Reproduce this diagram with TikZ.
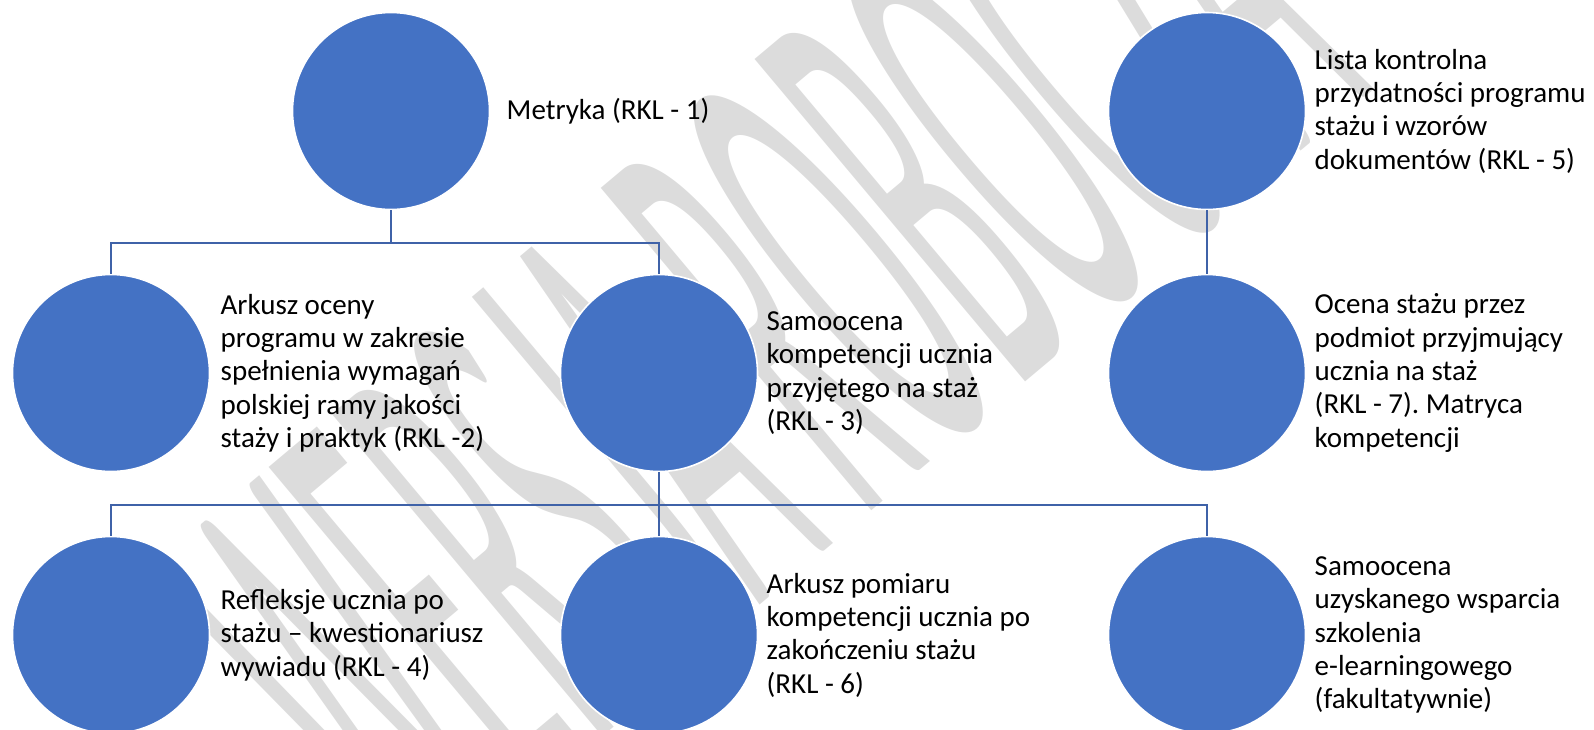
\documentclass[tikz,border=0pt]{standalone}
\usepackage{fontspec}
\setmainfont{Carlito}
\usetikzlibrary{positioning}
\definecolor{dotblue}{RGB}{68,114,196}
\definecolor{linkblue}{RGB}{63,98,168}
\definecolor{wmgray}{RGB}{220,220,220}
\frenchspacing

\begin{document}
\begin{tikzpicture}[x=0.5pt,y=-0.5pt,
    dot/.style={circle,fill=dotblue,draw=white,line width=0.8pt,minimum size=98.5pt,inner sep=0pt},
    lbl/.style={right=#1,inner sep=0pt,align=left,anchor=west,
      font=\fontsize{14.5pt}{16.65pt}\selectfont},
    link/.style={draw=linkblue,line width=1pt},
    wmark/.style={text=wmgray,inner sep=0pt,rotate=40,xscale=1.05,yscale=4.1,
      transform shape,font=\fontsize{80pt}{80pt}\selectfont}]
  \useasboundingbox (0,0) rectangle (1594,729);
  % watermark behind everything
  \node[wmark] (wm) at (760,330) {WERSJA ROBOCZA};

  % circles
  \node[dot] (met) at (391,111) {};
  \node[dot] (ark) at (111,373) {};
  \node[dot] (sam) at (659,373) {};
  \node[dot] (lis) at (1207,111) {};
  \node[dot] (oce) at (1207,373) {};
  \node[dot] (ref) at (111,635) {};
  \node[dot] (pom) at (659,635) {};
  \node[dot] (wsp) at (1207,635) {};

  % texts beside the circles
  \node[lbl=8pt of met] (metT) {Metryka (RKL - 1)};
  \node[lbl=5pt of ark] (arkT) {Arkusz oceny\\programu w zakresie\\spełnienia wymagań\\polskiej ramy jakości\\staży i praktyk (RKL -2)};
  \node[lbl=4pt of sam] (samT) {Samoocena\\kompetencji ucznia\\przyjętego na staż\\(RKL - 3)};
  \node[lbl=4pt of lis] (lisT) {Lista kontrolna\\przydatności programu\\stażu i wzorów\\dokumentów (RKL - 5)};
  \node[lbl=4pt of oce] (oceT) {Ocena stażu przez\\podmiot przyjmujący\\ucznia na staż\\(RKL - 7). Matryca\\kompetencji};
  \node[lbl=5pt of ref] (refT) {Refleksje ucznia po\\stażu – kwestionariusz\\wywiadu (RKL - 4)};
  \node[lbl=4pt of pom] (pomT) {Arkusz pomiaru\\kompetencji ucznia po\\zakończeniu stażu\\(RKL - 6)};
  \node[lbl=4pt of wsp] (wspT) {Samoocena\\uzyskanego wsparcia\\szkolenia\\e-learningowego\\(fakultatywnie)};

  % connectors
  \draw[link] (met.south) -- ++(0,33) coordinate (bus1);
  \draw[link] (ark.north) |- (bus1) -| (sam.north);
  \draw[link] (sam.south) -- ++(0,33) coordinate (bus2);
  \draw[link] (ref.north) |- (bus2) -| (wsp.north);
  \draw[link] (bus2) -- (pom.north);
  \draw[link] (lis.south) -- (oce.north);
\end{tikzpicture}
\end{document}
